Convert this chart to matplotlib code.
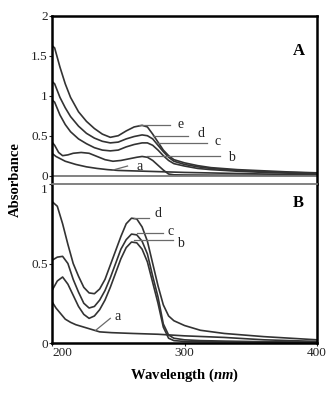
import matplotlib
matplotlib.use("Agg")
import matplotlib.pyplot as plt

plt.rcParams['font.family'] = 'Liberation Serif'
plt.rcParams['mathtext.fontset'] = 'custom'
plt.rcParams['mathtext.it'] = 'Liberation Serif:bold:italic'
plt.rcParams['mathtext.rm'] = 'Liberation Serif:bold'

# ---------------------------------------------------------------------------
# Panel A spectra
# ---------------------------------------------------------------------------
wl_A_cde = [200, 202, 206, 210, 214, 220, 226, 232, 238, 244, 250, 256, 262,
            268, 272, 276, 280, 284, 288, 292, 300, 310, 320, 340, 360, 380, 400]
A_e = [1.63, 1.60, 1.36, 1.15, 0.98, 0.80, 0.68, 0.59, 0.52, 0.48, 0.50, 0.56,
       0.61, 0.63, 0.61, 0.52, 0.42, 0.32, 0.25, 0.20, 0.16, 0.125, 0.10, 0.075,
       0.06, 0.045, 0.035]
A_d = [1.18, 1.15, 0.98, 0.85, 0.74, 0.62, 0.53, 0.47, 0.43, 0.41, 0.42, 0.46,
       0.49, 0.51, 0.50, 0.46, 0.38, 0.30, 0.23, 0.18, 0.14, 0.11, 0.09, 0.065,
       0.05, 0.04, 0.03]
A_c = [0.95, 0.92, 0.76, 0.64, 0.55, 0.46, 0.40, 0.35, 0.32, 0.31, 0.32, 0.36,
       0.39, 0.41, 0.41, 0.38, 0.32, 0.25, 0.19, 0.15, 0.12, 0.09, 0.075, 0.055,
       0.04, 0.03, 0.025]
wl_A_b = [200, 202, 205, 208, 212, 216, 222, 228, 234, 240, 246, 252, 258, 264,
          268, 272, 276, 280, 284, 288, 292, 300, 320, 360, 400]
A_b = [0.42, 0.38, 0.29, 0.25, 0.26, 0.28, 0.29, 0.28, 0.24, 0.20, 0.18, 0.19,
       0.21, 0.23, 0.24, 0.23, 0.19, 0.13, 0.07, 0.02, 0.01, 0.008, 0.006, 0.004,
       0.003]
wl_A_a = [200, 203, 210, 218, 226, 234, 242, 250, 260, 280, 300, 330, 360, 400]
A_a = [0.28, 0.24, 0.18, 0.14, 0.11, 0.09, 0.075, 0.065, 0.06, 0.05, 0.04,
       0.03, 0.02, 0.01]

# ---------------------------------------------------------------------------
# Panel B spectra
# ---------------------------------------------------------------------------
wl_B = [200, 204, 208, 212, 216, 220, 224, 228, 232, 236, 240, 244, 248, 252,
        256, 260, 264, 268, 272, 276, 280, 284, 288, 292, 300, 312, 330, 360, 400]
B_d = [0.89, 0.86, 0.75, 0.62, 0.50, 0.42, 0.35, 0.315, 0.31, 0.34, 0.40, 0.49,
       0.58, 0.67, 0.75, 0.785, 0.78, 0.73, 0.64, 0.50, 0.36, 0.24, 0.17, 0.14,
       0.11, 0.08, 0.06, 0.04, 0.02]
B_c = [0.52, 0.54, 0.545, 0.50, 0.40, 0.32, 0.25, 0.22, 0.23, 0.27, 0.33, 0.41,
       0.50, 0.59, 0.65, 0.685, 0.68, 0.64, 0.56, 0.42, 0.29, 0.12, 0.05, 0.03,
       0.02, 0.015, 0.012, 0.008, 0.005]
B_b = [0.33, 0.39, 0.415, 0.37, 0.30, 0.23, 0.18, 0.155, 0.17, 0.21, 0.27, 0.35,
       0.44, 0.53, 0.60, 0.635, 0.63, 0.59, 0.51, 0.38, 0.25, 0.10, 0.03, 0.015,
       0.01, 0.008, 0.007, 0.006, 0.005]
wl_B_a = [200, 203, 206, 210, 214, 218, 224, 230, 236, 245, 261, 280, 300, 330,
          360, 400]
B_a = [0.26, 0.22, 0.19, 0.15, 0.13, 0.115, 0.10, 0.085, 0.07, 0.065, 0.06,
       0.055, 0.045, 0.035, 0.02, 0.01]

x_ticks = [200, 300, 400]
yticks_A = [0, 0.5, 1, 1.5, 2]
yticks_B = [0, 0.5, 1]

# curve labels: (text, line start, line end, text pos) in data coords
labels_A = [
    ('e', (266, 0.63), (289, 0.63), (295, 0.64)),
    ('d', (276, 0.50), (303, 0.50), (310, 0.53)),
    ('c', (279, 0.41), (317, 0.41), (323, 0.43)),
    ('b', (272, 0.245), (327, 0.245), (333, 0.23)),
    ('a', (246, 0.07), (257, 0.12), (264, 0.12)),
]
labels_B = [
    ('d', (262, 0.786), (273, 0.786), (277, 0.815)),
    ('c', (264, 0.69), (284, 0.69), (287, 0.70)),
    ('b', (262, 0.646), (291, 0.646), (294, 0.627)),
    ('a', (233, 0.08), (244, 0.155), (247, 0.168)),
]

CURVE = '#333333'
LBL = '#6a6a6a'

fig = plt.figure(figsize=(3.31, 3.94), dpi=100)
L, W = 52 / 331, 265 / 331
axA = fig.add_axes([L, 1 - 184 / 394, W, 168 / 394])
axB = fig.add_axes([L, 1 - 343 / 394, W, 159 / 394])

for x, y in [(wl_A_cde, A_e), (wl_A_cde, A_d), (wl_A_cde, A_c),
             (wl_A_b, A_b), (wl_A_a, A_a)]:
    axA.plot(x, y, color=CURVE, lw=1.2)
for x, y in [(wl_B, B_d), (wl_B, B_c), (wl_B, B_b), (wl_B_a, B_a)]:
    axB.plot(x, y, color=CURVE, lw=1.2)

axA.axhline(0, color='#777777', lw=1.3)

for ax, labs in [(axA, labels_A), (axB, labels_B)]:
    for t, p0, p1, pt in labs:
        ax.plot([p0[0], p1[0]], [p0[1], p1[1]], color=LBL, lw=0.9)
        ax.text(pt[0], pt[1], t, fontsize=10, ha='left', va='center',
                color='#222222')

axA.set_xlim(200, 400)
axA.set_ylim(-0.105, 2)
axB.set_xlim(200, 400)
axB.set_ylim(0, 1)

axA.set_xticks([])
axA.set_yticks(yticks_A)
axA.set_yticklabels(['0', '0.5', '1', '1.5', '2'])
axB.set_yticks(yticks_B)
axB.set_yticklabels(['0', '0.5', '1'])
axB.set_xticks(x_ticks)

for ax in (axA, axB):
    ax.tick_params(axis='both', direction='out', length=2, width=0.8,
                   labelsize=9.5, pad=1, colors='#222222')
    for s in ax.spines.values():
        s.set_linewidth(1.8)
        s.set_color('black')
axA.spines['bottom'].set_visible(False)
axB.spines['top'].set_color('#777777')
axB.spines['top'].set_linewidth(1.3)

# first x label sits right of its tick, like the original
axB.get_xticklabels()[0].set_horizontalalignment('left')
axB.get_yticklabels()[2].set_verticalalignment('top')

axA.text(0.93, 0.79, 'A', transform=axA.transAxes, fontsize=12,
         fontweight='bold', ha='center', va='center')
axB.text(0.93, 0.88, 'B', transform=axB.transAxes, fontsize=12,
         fontweight='bold', ha='center', va='center')

fig.text(0.045, 1 - 180 / 394, 'Absorbance', rotation=90, fontsize=10.5,
         fontweight='bold', ha='center', va='center')
fig.text(185 / 331, 1 - 375 / 394, 'Wavelength ($nm$)', fontsize=10.5,
         fontweight='bold', ha='center', va='center')

fig.savefig('out.png', dpi=100)
